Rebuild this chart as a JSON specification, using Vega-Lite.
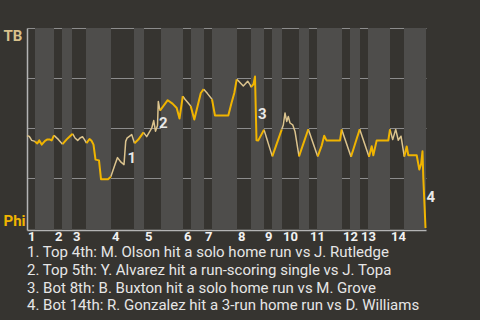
{
  "$schema": "https://vega.github.io/schema/vega-lite/v6.json",
  "width": 399,
  "height": 202,
  "autosize": {"type": "none"},
  "padding": {"left": 27, "top": 28, "right": 54, "bottom": 90},
  "background": "#363430",
  "config": {"view": {"stroke": null}, "font": "Roboto", "axis": {"labelOverlap": false, "labelFlush": false, "labelBound": false}},
  "title": {
    "text": [
      "1. Top 4th: M. Olson hit a solo home run vs J. Rutledge",
      "2. Top 5th: Y. Alvarez hit a run-scoring single vs J. Topa",
      "3. Bot 8th: B. Buxton hit a solo home run vs M. Grove",
      "4. Bot 14th: R. Gonzalez hit a 3-run home run vs D. Williams"
    ],
    "orient": "bottom",
    "anchor": "start",
    "frame": "group",
    "offset": 1,
    "font": "Roboto",
    "fontSize": 15,
    "fontWeight": "normal",
    "color": "#e6e6e6",
    "lineHeight": 17.8,
    "baseline": "top"
  },
  "datasets": {
    "bands": [
      {"half": "B1", "start": 8, "end": 27},
      {"half": "B2", "start": 35, "end": 45},
      {"half": "B3", "start": 59, "end": 84},
      {"half": "B4", "start": 107, "end": 117},
      {"half": "B5", "start": 134, "end": 156},
      {"half": "B6", "start": 164, "end": 177},
      {"half": "B7", "start": 185, "end": 210},
      {"half": "B8", "start": 224, "end": 237},
      {"half": "B9", "start": 245, "end": 255},
      {"half": "B10", "start": 272, "end": 282},
      {"half": "B11", "start": 290, "end": 315},
      {"half": "B12", "start": 323, "end": 333},
      {"half": "B13", "start": 341, "end": 363},
      {"half": "B14", "start": 377, "end": 399}
    ],
    "innings": [
      {"inning": "1", "start": 0},
      {"inning": "2", "start": 27},
      {"inning": "3", "start": 45},
      {"inning": "4", "start": 84},
      {"inning": "5", "start": 117},
      {"inning": "6", "start": 156},
      {"inning": "7", "start": 177},
      {"inning": "8", "start": 210},
      {"inning": "9", "start": 237},
      {"inning": "10", "start": 255},
      {"inning": "11", "start": 282},
      {"inning": "12", "start": 315},
      {"inning": "13", "start": 333},
      {"inning": "14", "start": 363}
    ],
    "wp": [
      {"half": "T1", "team": "TB", "x": 0, "wp": 46.2},
      {"half": "T1", "team": "TB", "x": 2.3, "wp": 45.8},
      {"half": "T1", "team": "TB", "x": 4.7, "wp": 43.8},
      {"half": "T1", "team": "TB", "x": 8, "wp": 43.3},
      {"half": "B1", "team": "Phi", "x": 8, "wp": 43.3},
      {"half": "B1", "team": "Phi", "x": 10.3, "wp": 42.3},
      {"half": "B1", "team": "Phi", "x": 12.3, "wp": 43.8},
      {"half": "B1", "team": "Phi", "x": 14.7, "wp": 41.7},
      {"half": "B1", "team": "Phi", "x": 18, "wp": 43.6},
      {"half": "B1", "team": "Phi", "x": 20, "wp": 44.2},
      {"half": "B1", "team": "Phi", "x": 23, "wp": 44.2},
      {"half": "B1", "team": "Phi", "x": 24.7, "wp": 43.8},
      {"half": "B1", "team": "Phi", "x": 27, "wp": 46.3},
      {"half": "T2", "team": "TB", "x": 27, "wp": 46.3},
      {"half": "T2", "team": "TB", "x": 31.3, "wp": 44.3},
      {"half": "T2", "team": "TB", "x": 35.5, "wp": 41.9},
      {"half": "B2", "team": "Phi", "x": 35.5, "wp": 41.9},
      {"half": "B2", "team": "Phi", "x": 39.7, "wp": 44.3},
      {"half": "B2", "team": "Phi", "x": 43, "wp": 45.9},
      {"half": "B2", "team": "Phi", "x": 45.7, "wp": 47.1},
      {"half": "T3", "team": "TB", "x": 45.7, "wp": 47.1},
      {"half": "T3", "team": "TB", "x": 48, "wp": 45},
      {"half": "T3", "team": "TB", "x": 50.7, "wp": 43.8},
      {"half": "T3", "team": "TB", "x": 53, "wp": 45},
      {"half": "T3", "team": "TB", "x": 55.5, "wp": 45.6},
      {"half": "T3", "team": "TB", "x": 57.5, "wp": 44.2},
      {"half": "T3", "team": "TB", "x": 59.5, "wp": 42.4},
      {"half": "B3", "team": "Phi", "x": 59.5, "wp": 42.4},
      {"half": "B3", "team": "Phi", "x": 62.5, "wp": 44.5},
      {"half": "B3", "team": "Phi", "x": 64.5, "wp": 43.6},
      {"half": "B3", "team": "Phi", "x": 66.5, "wp": 41.7},
      {"half": "B3", "team": "Phi", "x": 68.5, "wp": 34.2},
      {"half": "B3", "team": "Phi", "x": 72, "wp": 33.8},
      {"half": "B3", "team": "Phi", "x": 74, "wp": 24.4},
      {"half": "B3", "team": "Phi", "x": 81, "wp": 24.4},
      {"half": "B3", "team": "Phi", "x": 83.8, "wp": 25.6},
      {"half": "T4", "team": "TB", "x": 83.8, "wp": 25.6},
      {"half": "T4", "team": "TB", "x": 88, "wp": 31.7},
      {"half": "T4", "team": "TB", "x": 90.5, "wp": 35.2},
      {"half": "T4", "team": "TB", "x": 94, "wp": 32.9},
      {"half": "T4", "team": "TB", "x": 97, "wp": 31.7},
      {"half": "T4", "team": "TB", "x": 98.7, "wp": 43.3},
      {"half": "T4", "team": "TB", "x": 100, "wp": 44.9},
      {"half": "T4", "team": "TB", "x": 104.7, "wp": 46.7},
      {"half": "T4", "team": "TB", "x": 107.5, "wp": 42.4},
      {"half": "B4", "team": "Phi", "x": 107.5, "wp": 42.4},
      {"half": "B4", "team": "Phi", "x": 111.3, "wp": 44.2},
      {"half": "B4", "team": "Phi", "x": 116.5, "wp": 47.8},
      {"half": "T5", "team": "TB", "x": 116.5, "wp": 47.8},
      {"half": "T5", "team": "TB", "x": 119.7, "wp": 45.7},
      {"half": "T5", "team": "TB", "x": 124.7, "wp": 49.9},
      {"half": "T5", "team": "TB", "x": 126.7, "wp": 53.7},
      {"half": "T5", "team": "TB", "x": 128.5, "wp": 48.4},
      {"half": "T5", "team": "TB", "x": 130.5, "wp": 51.2},
      {"half": "T5", "team": "TB", "x": 131.3, "wp": 63.3},
      {"half": "T5", "team": "TB", "x": 133, "wp": 58.7},
      {"half": "B5", "team": "Phi", "x": 133, "wp": 58.7},
      {"half": "B5", "team": "Phi", "x": 140.7, "wp": 63.9},
      {"half": "B5", "team": "Phi", "x": 145.5, "wp": 62.2},
      {"half": "B5", "team": "Phi", "x": 149.7, "wp": 60},
      {"half": "B5", "team": "Phi", "x": 152.5, "wp": 54.7},
      {"half": "B5", "team": "Phi", "x": 155.8, "wp": 65.9},
      {"half": "T6", "team": "TB", "x": 155.8, "wp": 65.9},
      {"half": "T6", "team": "TB", "x": 158, "wp": 64.4},
      {"half": "T6", "team": "TB", "x": 163.7, "wp": 61},
      {"half": "B6", "team": "Phi", "x": 163.7, "wp": 61},
      {"half": "B6", "team": "Phi", "x": 167.3, "wp": 54.2},
      {"half": "B6", "team": "Phi", "x": 173.8, "wp": 67.5},
      {"half": "B6", "team": "Phi", "x": 176.7, "wp": 69.4},
      {"half": "T7", "team": "TB", "x": 176.7, "wp": 69.4},
      {"half": "T7", "team": "TB", "x": 180.5, "wp": 67.2},
      {"half": "T7", "team": "TB", "x": 185, "wp": 64.4},
      {"half": "B7", "team": "Phi", "x": 185, "wp": 64.4},
      {"half": "B7", "team": "Phi", "x": 188, "wp": 56.2},
      {"half": "B7", "team": "Phi", "x": 201.3, "wp": 56.2},
      {"half": "B7", "team": "Phi", "x": 204.5, "wp": 62.5},
      {"half": "B7", "team": "Phi", "x": 207.3, "wp": 67.5},
      {"half": "B7", "team": "Phi", "x": 209.7, "wp": 74.3},
      {"half": "T8", "team": "TB", "x": 209.7, "wp": 74.3},
      {"half": "T8", "team": "TB", "x": 212, "wp": 73.3},
      {"half": "T8", "team": "TB", "x": 216.3, "wp": 71},
      {"half": "T8", "team": "TB", "x": 220.7, "wp": 73.4},
      {"half": "T8", "team": "TB", "x": 223, "wp": 71.7},
      {"half": "T8", "team": "TB", "x": 224, "wp": 70.4},
      {"half": "B8", "team": "Phi", "x": 224, "wp": 70.4},
      {"half": "B8", "team": "Phi", "x": 226.5, "wp": 71.9},
      {"half": "B8", "team": "Phi", "x": 228, "wp": 75.7},
      {"half": "B8", "team": "Phi", "x": 229.5, "wp": 43.9},
      {"half": "B8", "team": "Phi", "x": 231.3, "wp": 43.8},
      {"half": "B8", "team": "Phi", "x": 237, "wp": 49.2},
      {"half": "T9", "team": "TB", "x": 237, "wp": 49.2},
      {"half": "T9", "team": "TB", "x": 245.3, "wp": 35.8},
      {"half": "B9", "team": "Phi", "x": 245.3, "wp": 35.8},
      {"half": "B9", "team": "Phi", "x": 254.7, "wp": 49.2},
      {"half": "T10", "team": "TB", "x": 254.7, "wp": 49.2},
      {"half": "T10", "team": "TB", "x": 256.3, "wp": 51.5},
      {"half": "T10", "team": "TB", "x": 258, "wp": 57.5},
      {"half": "T10", "team": "TB", "x": 259.7, "wp": 53.3},
      {"half": "T10", "team": "TB", "x": 261.3, "wp": 55.8},
      {"half": "T10", "team": "TB", "x": 263, "wp": 52.5},
      {"half": "T10", "team": "TB", "x": 265.7, "wp": 51.6},
      {"half": "T10", "team": "TB", "x": 268, "wp": 48.3},
      {"half": "T10", "team": "TB", "x": 272, "wp": 35.8},
      {"half": "B10", "team": "Phi", "x": 272, "wp": 35.8},
      {"half": "B10", "team": "Phi", "x": 281.3, "wp": 49.4},
      {"half": "T11", "team": "TB", "x": 281.3, "wp": 49.4},
      {"half": "T11", "team": "TB", "x": 290.7, "wp": 35.8},
      {"half": "B11", "team": "Phi", "x": 290.7, "wp": 35.8},
      {"half": "B11", "team": "Phi", "x": 294.7, "wp": 41.2},
      {"half": "B11", "team": "Phi", "x": 297.2, "wp": 46.1},
      {"half": "B11", "team": "Phi", "x": 299.5, "wp": 43.8},
      {"half": "B11", "team": "Phi", "x": 313, "wp": 43.8},
      {"half": "B11", "team": "Phi", "x": 314.7, "wp": 49.3},
      {"half": "T12", "team": "TB", "x": 314.7, "wp": 49.3},
      {"half": "T12", "team": "TB", "x": 324, "wp": 35.6},
      {"half": "B12", "team": "Phi", "x": 324, "wp": 35.6},
      {"half": "B12", "team": "Phi", "x": 332.7, "wp": 49.4},
      {"half": "T13", "team": "TB", "x": 332.7, "wp": 49.4},
      {"half": "T13", "team": "TB", "x": 342, "wp": 35.6},
      {"half": "B13", "team": "Phi", "x": 342, "wp": 35.6},
      {"half": "B13", "team": "Phi", "x": 344.7, "wp": 40.9},
      {"half": "B13", "team": "Phi", "x": 346.3, "wp": 36.4},
      {"half": "B13", "team": "Phi", "x": 349.7, "wp": 43.8},
      {"half": "B13", "team": "Phi", "x": 361.3, "wp": 43.8},
      {"half": "B13", "team": "Phi", "x": 363, "wp": 49.3},
      {"half": "T14", "team": "TB", "x": 363, "wp": 49.3},
      {"half": "T14", "team": "TB", "x": 365.7, "wp": 44.2},
      {"half": "T14", "team": "TB", "x": 368.7, "wp": 49.3},
      {"half": "T14", "team": "TB", "x": 371.3, "wp": 43.9},
      {"half": "T14", "team": "TB", "x": 374, "wp": 45.9},
      {"half": "T14", "team": "TB", "x": 377.3, "wp": 35.7},
      {"half": "B14", "team": "Phi", "x": 377.3, "wp": 35.7},
      {"half": "B14", "team": "Phi", "x": 379.7, "wp": 40.8},
      {"half": "B14", "team": "Phi", "x": 381.3, "wp": 36.4},
      {"half": "B14", "team": "Phi", "x": 389.7, "wp": 36.4},
      {"half": "B14", "team": "Phi", "x": 392.3, "wp": 29.2},
      {"half": "B14", "team": "Phi", "x": 394.2, "wp": 32.2},
      {"half": "B14", "team": "Phi", "x": 395.5, "wp": 38.4},
      {"half": "B14", "team": "Phi", "x": 396.3, "wp": 25.2},
      {"half": "B14", "team": "Phi", "x": 397.5, "wp": 11.6},
      {"half": "B14", "team": "Phi", "x": 398.5, "wp": 0}
    ],
    "events": [
      {"label": "1", "x": 100.5, "wp": 35},
      {"label": "2", "x": 132, "wp": 52.7},
      {"label": "3", "x": 231, "wp": 57},
      {"label": "4", "x": 399.5, "wp": 15.5}
    ]
  },
  "layer": [
    {
      "data": {"name": "bands"},
      "mark": {"type": "rect", "color": "#4e4d4b"},
      "encoding": {
        "x": {
          "field": "start",
          "type": "quantitative",
          "scale": {"domain": [0, 399], "nice": false, "zero": false},
          "axis": {
            "orient": "bottom",
            "title": null,
            "grid": false,
            "ticks": false,
            "tickSize": 0,
            "labels": false,
            "domain": true,
            "domainColor": "#b4b4b4",
            "domainWidth": 1.5
          }
        },
        "x2": {"field": "end"}
      }
    },
    {
      "data": {"name": "wp"},
      "transform": [{"filter": "datum.team == 'TB'"}],
      "mark": {"type": "line", "color": "#dcc48e", "strokeWidth": 1.5, "strokeJoin": "round"},
      "encoding": {
        "x": {"field": "x", "type": "quantitative"},
        "y": {
          "field": "wp",
          "type": "quantitative",
          "scale": {"domain": [-1, 100], "nice": false, "zero": false},
          "axis": {
            "orient": "left",
            "values": [0, 25, 50, 75, 100],
            "labelExpr": "datum.value == 100 ? 'TB' : datum.value == 0 ? 'Phi' : ''",
            "title": null,
            "grid": true,
            "gridColor": "#8c8c8c",
            "gridWidth": 1,
            "gridOpacity": {"condition": {"test": "datum.value == 0", "value": 0}, "value": 1},
            "ticks": false,
            "tickSize": 0,
            "domain": true,
            "domainColor": "#b4b4b4",
            "domainWidth": 1.5,
            "labelAlign": "left",
            "labelPadding": 24,
            "labelBaseline": {"condition": {"test": "datum.value == 100", "value": "top"}, "value": "bottom"},
            "labelColor": {"condition": {"test": "datum.value == 100", "value": "#d8c28c"}, "value": "#f0b400"},
            "labelFont": "Roboto",
            "labelFontSize": 15,
            "labelFontWeight": "bold"
          }
        },
        "detail": {"field": "half"},
        "order": {"field": "x"}
      }
    },
    {
      "data": {"name": "wp"},
      "transform": [{"filter": "datum.team == 'Phi'"}],
      "mark": {"type": "line", "color": "#f0b400", "strokeWidth": 2, "strokeJoin": "round"},
      "encoding": {
        "x": {"field": "x", "type": "quantitative"},
        "y": {"field": "wp", "type": "quantitative"},
        "detail": {"field": "half"},
        "order": {"field": "x"}
      }
    },
    {
      "data": {"name": "events"},
      "mark": {"type": "text", "align": "left", "baseline": "middle", "font": "Roboto", "fontSize": 15, "fontWeight": "bold", "color": "#e8e8e8"},
      "encoding": {
        "x": {"field": "x", "type": "quantitative"},
        "y": {"field": "wp", "type": "quantitative"},
        "text": {"field": "label"}
      }
    },
    {
      "data": {"name": "innings"},
      "mark": {"type": "text", "align": "left", "baseline": "top", "dx": 1, "dy": 1, "font": "Roboto", "fontSize": 13, "fontWeight": "bold", "color": "#f2f2f2"},
      "encoding": {
        "x": {"field": "start", "type": "quantitative"},
        "y": {"datum": -1, "type": "quantitative"},
        "text": {"field": "inning"}
      }
    }
  ]
}
